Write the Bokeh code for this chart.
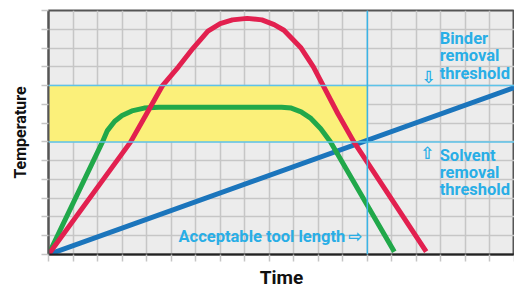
from bokeh.plotting import figure
from bokeh.models import Range1d, Label, Span, BoxAnnotation, FixedTicker
from bokeh.embed import file_html
from bokeh.resources import INLINE

# ---- data (x = time units, y = temperature units) ----
red_x = [0, 3.35, 4.0, 4.65, 5.3, 5.9, 6.5, 7.0, 7.5, 8.1, 8.7, 9.2, 9.6, 10.3, 10.8, 11.2, 11.8, 12.45, 15.4]
red_y = [0, 6.0, 7.5, 9.0, 10.0, 11.0, 11.9, 12.3, 12.5, 12.58, 12.5, 12.25, 11.95, 11.0, 10.0, 9.0, 7.5, 6.0, 0.15]
green_x = [0, 2.2, 2.4, 2.7, 3.0, 3.4, 3.9, 4.5, 9.5, 9.9, 10.3, 10.7, 11.1, 11.5, 14.1]
green_y = [0, 6.0, 6.6, 7.1, 7.4, 7.65, 7.8, 7.85, 7.85, 7.8, 7.6, 7.25, 6.7, 6.0, 0.15]
blue_x = [0, 19]
blue_y = [0, 8.9]
solvent_threshold = 6
binder_threshold = 9
tool_length = 13
x_ticks = list(range(0, 20))
y_ticks = list(range(0, 14))

CYAN = "#29aee6"
FONT = "Roboto"

p = figure(width=514, height=291, output_backend="svg", toolbar_location=None,
           x_range=Range1d(0, 19), y_range=Range1d(0, 13),
           min_border_left=48, min_border_right=0, min_border_top=10, min_border_bottom=36)
p.background_fill_color = "#ececec"
p.border_fill_color = "white"
p.outline_line_color = "#555555"
p.outline_line_width = 2

# yellow window
p.add_layout(BoxAnnotation(left=0, right=tool_length, bottom=solvent_threshold,
                           top=binder_threshold, fill_color="#fbf07a", fill_alpha=1,
                           line_color=None, level="underlay"))

p.xgrid.ticker = FixedTicker(ticks=x_ticks)
p.ygrid.ticker = FixedTicker(ticks=y_ticks)
for g in (p.xgrid, p.ygrid):
    g.grid_line_color = "#c6c6c6"
    g.grid_line_width = 1.5
    g.level = "underlay"

# axes
p.xaxis.ticker = FixedTicker(ticks=x_ticks)
p.yaxis.ticker = FixedTicker(ticks=y_ticks)
p.xaxis.major_label_overrides = {t: "" for t in x_ticks}
p.yaxis.major_label_overrides = {t: "" for t in y_ticks}
p.xaxis.axis_line_color = "#222222"
p.xaxis.axis_line_width = 2
p.yaxis.axis_line_color = "#555555"
p.yaxis.axis_line_width = 2
for ax in (p.xaxis, p.yaxis):
    ax.major_label_text_font_size = "1px"
    ax.major_label_standoff = 0
    ax.major_tick_line_color = "#c6c6c6"
    ax.major_tick_line_width = 1.5
    ax.major_tick_out = 7
    ax.major_tick_in = 0
    ax.minor_tick_line_color = None
    ax.axis_label_text_font = FONT
    ax.axis_label_text_font_style = "bold"
    ax.axis_label_text_color = "#111111"
p.xaxis.axis_label = "Time"
p.xaxis.axis_label_text_font_size = "19px"
p.xaxis.axis_label_standoff = 4
p.yaxis.axis_label = "Temperature"
p.yaxis.axis_label_text_font_size = "16px"
p.yaxis.axis_label_standoff = 12

# threshold lines
for yv in (solvent_threshold, binder_threshold):
    p.add_layout(Span(location=yv, dimension="width", line_color="#5cc3ea", line_width=1.5))
p.add_layout(Span(location=tool_length, dimension="height", line_color="#3ab4e6", line_width=1.5))

# curves
p.line(blue_x, blue_y, line_color="#1b75bc", line_width=5, line_cap="round")
p.line(green_x, green_y, line_color="#21a84a", line_width=5, line_join="round")
p.line(red_x, red_y, line_color="#e2204f", line_width=5, line_join="round")

def lab(x, y, t, size="16.5px", color=CYAN, font=FONT, align="left", angle=0):
    p.add_layout(Label(x=x, y=y, text=t, text_font=font, text_font_size=size,
                       text_font_style="bold", text_color=color, text_align=align,
                       text_baseline="middle", angle=angle))

lab(15.95, 11.5, "Binder")
lab(15.95, 10.6, "removal")
lab(15.95, 9.66, "threshold")
lab(15.5, 9.45, "\u21e9", size="17px", font="DejaVu Sans", align="center")

lab(15.95, 5.3, "Solvent")
lab(15.95, 4.38, "removal")
lab(15.95, 3.45, "threshold")
lab(15.45, 5.4, "\u21e7", size="17px", font="DejaVu Sans", align="center")

lab(12.1, 0.98, "Acceptable tool length", align="right")
lab(12.5, 0.98, "\u21e8", size="17px", font="DejaVu Sans", align="center")

open("out.html", "w").write(file_html(p, INLINE))
